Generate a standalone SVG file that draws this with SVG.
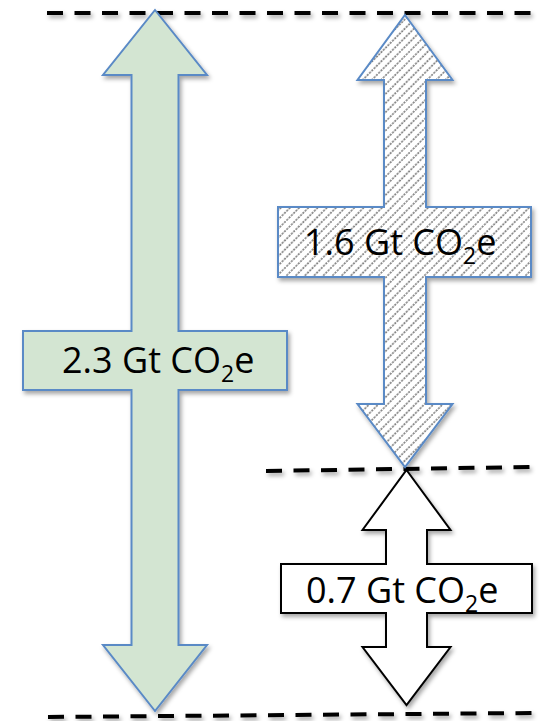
<svg xmlns="http://www.w3.org/2000/svg" width="540" height="721" viewBox="0 0 540 721">
  <defs>
    <pattern id="hatch" patternUnits="userSpaceOnUse" width="6.5" height="6.5" patternTransform="rotate(45)">
      <rect width="6.5" height="6.5" fill="#ffffff"/>
      <line x1="1" y1="0" x2="1" y2="6.5" stroke="#7a7a7a" stroke-width="1.6" stroke-dasharray="2 1.25"/>
    </pattern>
    <filter id="sh" x="-10%" y="-10%" width="130%" height="130%">
      <feDropShadow dx="2" dy="3" stdDeviation="2" flood-color="#000" flood-opacity="0.35"/>
    </filter>
    <filter id="lsh" filterUnits="userSpaceOnUse" x="0" y="0" width="540" height="721">
      <feDropShadow dx="2" dy="3" stdDeviation="2" flood-color="#000" flood-opacity="0.35"/>
    </filter>
  </defs>
  <style>
    .dash { stroke: #000; stroke-width: 4; stroke-dasharray: 16 11.5; fill: none; filter: url(#lsh); }
    .blue { stroke: #5a8ac6; stroke-width: 2; stroke-linejoin: miter; filter: url(#sh); }
    .black { stroke: #000; stroke-width: 2; fill: #fff; filter: url(#sh); }
    .lbl { font-family: "Open Sans", "Liberation Sans", sans-serif; font-size: 36px; fill: #000; }
    .sub { font-size: 23px; }
  </style>
  <rect width="540" height="721" fill="#ffffff"/>
  <g id="lines">
    <line class="dash" x1="47" y1="13" x2="534" y2="13"/>
    <line class="dash" x1="266" y1="471" x2="532" y2="467"/>
    <line class="dash" x1="48" y1="717" x2="532" y2="713"/>
  </g>
  <g id="arrow-23">
    <path class="blue" fill="#d3e5d2" d="M155,10 L207,75 L178.5,75 L178.5,331 L287,331 L287,390 L178.5,390 L178.5,645 L207,645 L155,711 L103,645 L131.5,645 L131.5,390 L23,390 L23,331 L131.5,331 L131.5,75 L103,75 Z"/>
    <text class="lbl" x="62" y="373">2.3 Gt CO<tspan class="sub" dy="9">2</tspan><tspan dy="-9">e</tspan></text>
  </g>
  <g id="arrow-16">
    <path class="blue" fill="url(#hatch)" d="M405,15 L452.5,80 L426,80 L426,207 L531,207 L531,277 L426,277 L426,404 L452.5,404 L405,467 L357.5,404 L384,404 L384,277 L278,277 L278,207 L384,207 L384,80 L357.5,80 Z"/>
    <text class="lbl" x="304" y="255">1.6 Gt CO<tspan class="sub" dy="9">2</tspan><tspan dy="-9">e</tspan></text>
  </g>
  <g id="arrow-07">
    <path class="black" d="M406.5,470 L450.5,530 L427,530 L427,564 L532,564 L532,613 L427,613 L427,647 L450.5,647 L406.5,705 L362.5,647 L386,647 L386,613 L281,613 L281,564 L386,564 L386,530 L362.5,530 Z"/>
    <text class="lbl" x="306" y="603">0.7 Gt CO<tspan class="sub" dy="9">2</tspan><tspan dy="-9">e</tspan></text>
  </g>
</svg>
